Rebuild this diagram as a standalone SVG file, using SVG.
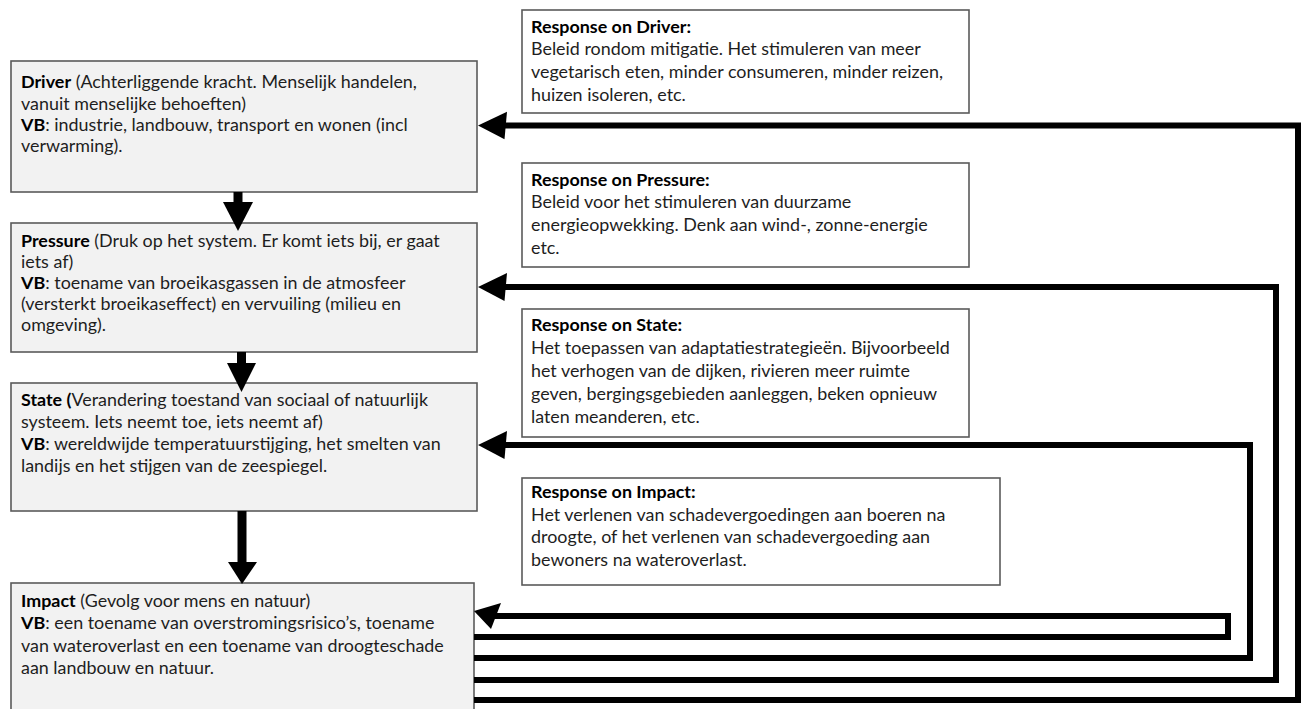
<svg xmlns="http://www.w3.org/2000/svg" width="1303" height="709" viewBox="0 0 1303 709">
  <style>
    .dpsir { fill: #f2f2f2; stroke: #5a5a5a; stroke-width: 1.6; }
    .resp { fill: #ffffff; stroke: #5a5a5a; stroke-width: 1.6; }
    text { font-family: Lato, "Liberation Sans", sans-serif; font-size: 17.9px; fill: #1e1e1e; }
    .b { font-weight: bold; fill: #000; }
    .loop { fill: none; stroke: #000; stroke-width: 6; stroke-linejoin: miter; }
    .shaft { stroke: #000; stroke-width: 9; }
    .head { fill: #000; }
  </style>

  <!-- DPSIR chain (left column) -->
  <g id="driver">
    <rect class="dpsir" x="11" y="61" width="466" height="131"/>
    <text x="21" y="88"><tspan class="b">Driver</tspan> (Achterliggende kracht. Menselijk handelen,</text>
    <text x="21" y="110">vanuit menselijke behoeften)</text>
    <text x="21" y="131"><tspan class="b">VB</tspan>: industrie, landbouw, transport en wonen (incl</text>
    <text x="21" y="152">verwarming).</text>
  </g>

  <g id="pressure">
    <rect class="dpsir" x="11" y="223" width="466" height="129"/>
    <text x="21" y="247"><tspan class="b">Pressure</tspan> (Druk op het system. Er komt iets bij, er gaat</text>
    <text x="21" y="268">iets af)</text>
    <text x="21" y="289"><tspan class="b">VB</tspan>: toename van broeikasgassen in de atmosfeer</text>
    <text x="21" y="310">(versterkt broeikaseffect) en vervuiling (milieu en</text>
    <text x="21" y="331">omgeving).</text>
  </g>

  <g id="state">
    <rect class="dpsir" x="11" y="383" width="466" height="128"/>
    <text x="21" y="406"><tspan class="b">State (</tspan>Verandering toestand van sociaal of natuurlijk</text>
    <text x="21" y="428">systeem. Iets neemt toe, iets neemt af)</text>
    <text x="21" y="450"><tspan class="b">VB</tspan>: wereldwijde temperatuurstijging, het smelten van</text>
    <text x="21" y="472">landijs en het stijgen van de zeespiegel.</text>
  </g>

  <g id="impact">
    <rect class="dpsir" x="11" y="583" width="463" height="135"/>
    <text x="21" y="607"><tspan class="b">Impact</tspan> (Gevolg voor mens en natuur)</text>
    <text x="21" y="629"><tspan class="b">VB</tspan>: een toename van overstromingsrisico’s, toename</text>
    <text x="21" y="652">van wateroverlast en een toename van droogteschade</text>
    <text x="21" y="674">aan landbouw en natuur.</text>
  </g>

  <!-- Responses (right column) -->
  <g id="response-driver">
    <rect class="resp" x="522" y="10" width="447" height="103"/>
    <text x="531" y="33" class="b">Response on Driver:</text>
    <text x="531" y="55">Beleid rondom mitigatie. Het stimuleren van meer</text>
    <text x="531" y="78">vegetarisch eten, minder consumeren, minder reizen,</text>
    <text x="531" y="101">huizen isoleren, etc.</text>
  </g>

  <g id="response-pressure">
    <rect class="resp" x="522" y="163" width="447" height="104"/>
    <text x="531" y="186" class="b">Response on Pressure:</text>
    <text x="531" y="208">Beleid voor het stimuleren van duurzame</text>
    <text x="531" y="231">energieopwekking. Denk aan wind-, zonne-energie</text>
    <text x="531" y="254">etc.</text>
  </g>

  <g id="response-state">
    <rect class="resp" x="522" y="309" width="447" height="128"/>
    <text x="531" y="331" class="b">Response on State:</text>
    <text x="531" y="354">Het toepassen van adaptatiestrategieën. Bijvoorbeeld</text>
    <text x="531" y="377">het verhogen van de dijken, rivieren meer ruimte</text>
    <text x="531" y="400">geven, bergingsgebieden aanleggen, beken opnieuw</text>
    <text x="531" y="423">laten meanderen, etc.</text>
  </g>

  <g id="response-impact">
    <rect class="resp" x="522" y="478" width="478" height="107"/>
    <text x="531" y="498" class="b">Response on Impact:</text>
    <text x="531" y="521">Het verlenen van schadevergoedingen aan boeren na</text>
    <text x="531" y="543">droogte, of het verlenen van schadevergoeding aan</text>
    <text x="531" y="566">bewoners na wateroverlast.</text>
  </g>

  <!-- Connectors -->
  <g id="connectors">
    <!-- chain arrows -->
    <line class="shaft" x1="238" y1="192" x2="238" y2="203"/>
    <polygon class="head" points="223,202 253,202 238,231"/>
    <line class="shaft" x1="241.5" y1="352" x2="241.5" y2="364"/>
    <polygon class="head" points="227,363 256,363 241.5,392"/>
    <line class="shaft" x1="242" y1="511" x2="242" y2="563"/>
    <polygon class="head" points="228,562 257,562 242,584"/>

    <!-- feedback loops -->
    <path class="loop" d="M505,125.5 H1298 V700 H474"/>
    <polygon class="head" points="478,125.5 507,111.7 504.5,139.3"/>
    <path class="loop" d="M505,287 H1276 V680 H474"/>
    <polygon class="head" points="478,287 507,273 504.5,301"/>
    <path class="loop" d="M505,445 H1250 V658 H474"/>
    <polygon class="head" points="478,445 507,431 504.5,459"/>
    <path class="loop" d="M494,616 H1228 V637 H474"/>
    <polygon class="head" points="474,611 501,603 491,629"/>
  </g>
</svg>
